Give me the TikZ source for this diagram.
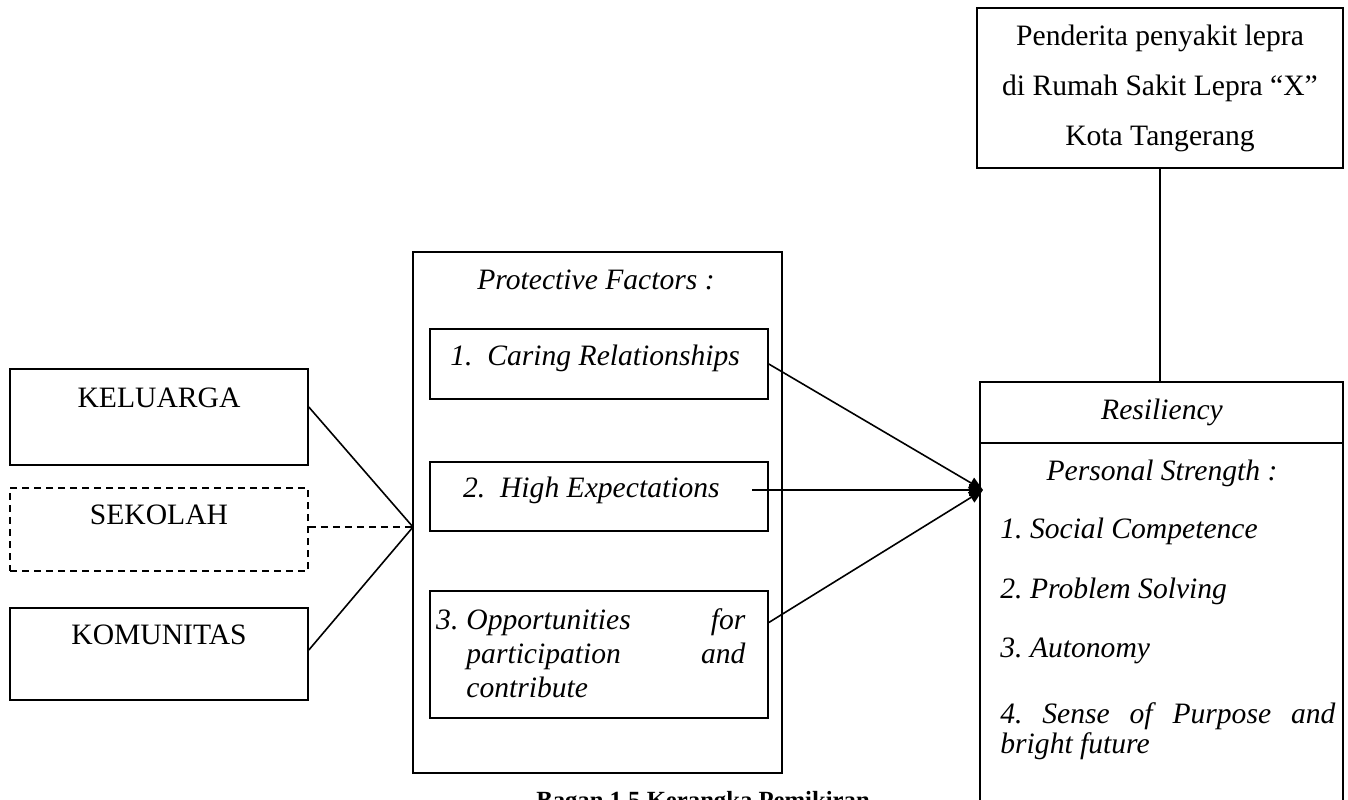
\documentclass[tikz,border=0pt]{standalone}
\usepackage{fontspec}
\setmainfont{Liberation Serif}
\usetikzlibrary{positioning,calc,arrows.meta}
\frenchspacing
\hyphenpenalty=10000
\exhyphenpenalty=10000

\begin{document}
\begin{tikzpicture}[x=0.5pt,y=-0.5pt,
	kotak/.style={draw,line width=0.8pt,inner sep=0pt},
	garis/.style={line width=0.8pt},
	putus/.style={dash pattern=on 3.5pt off 2.5pt},
	panah/.style={line width=0.8pt,-{Triangle[length=7pt,width=6pt]}},
	teks/.style={inner sep=0pt,font=\fontsize{14.8pt}{17pt}\selectfont},
	miring/.style={inner sep=0pt,font=\fontsize{14.8pt}{17pt}\selectfont\itshape}]
	\useasboundingbox (0,0) rectangle (1348,799);
	\clip (0,0) rectangle (1348,799);
		\node[kotak,minimum width=149pt,minimum height=48pt] (kel) at (159,417) {};
		\node[kotak,putus,minimum width=149pt,minimum height=41.5pt] (sek) at (159,529.5) {};
		\node[kotak,minimum width=149pt,minimum height=46pt] (kom) at (159,654) {};
		\node[teks] (tkel) at (159,398) {KELUARGA};
		\node[teks] (tsek) at (159,515) {SEKOLAH};
		\node[teks] (tkom) at (159,635) {KOMUNITAS};
	\node[kotak,minimum width=184.5pt,minimum height=260.5pt] (pf) at (597.5,512.5) {};
	\node[miring] (tpf) at (596,280) {Protective Factors :};
		\node[kotak,minimum width=169pt,minimum height=35pt] (pf1) at (599,364) {};
		\node[kotak,minimum width=169pt,minimum height=34.5pt] (pf2) at (599,496.5) {};
		\node[kotak,minimum width=169pt,minimum height=63.5pt] (pf3) at (599,654.5) {};
		\node[miring,anchor=base west] (care) at (450,365) {1.~~Caring Relationships};
		\node[miring,anchor=base east] (high) at (720,497) {2.~~High Expectations};
		\node[miring,anchor=north west,text width=139.5pt,align=justify] (opp) at (466,608) {\noindent\llap{3.\hspace{4pt}}Opportunities for participation and contribute};
	\node[kotak,minimum width=183pt,minimum height=80pt,align=center,font=\fontsize{14.8pt}{25pt}\selectfont] (pend) at (1160,88) {Penderita penyakit lepra\\di Rumah Sakit Lepra ``X''\\Kota Tangerang};
	\node[kotak,minimum width=181.5pt,minimum height=30.5pt] (reskep) at (1161.5,412.5) {};
	\node[kotak,minimum width=181.5pt,minimum height=208.5pt] (resisi) at (1161.5,651.5) {};
		\node[miring,anchor=base] (tres) at (1162,419) {Resiliency};
		\node[miring,anchor=base] (tps) at (1162,480) {Personal Strength :};
		\node[miring,anchor=base west] (r1) at (1000,538) {1. Social Competence};
		\node[miring,anchor=base west] (r2) at (1000,598) {2. Problem Solving};
		\node[miring,anchor=base west] (r3) at (1000,657) {3. Autonomy};
		\node[miring,anchor=north west,text width=167.5pt,align=justify,font=\fontsize{14.8pt}{15pt}\selectfont\itshape] (r4) at (1000,702) {4. Sense of Purpose and bright future};
	\node[inner sep=0pt,anchor=base,font=\fontsize{12.35pt}{14pt}\selectfont\bfseries] (judul) at (703,808) {Bagan 1.5 Kerangka Pemikiran};
	\coordinate (temu) at (413,527);
	\coordinate (ujung) at (983,490);
		\draw[garis] ([yshift=5pt]kel.east) -- (temu);
		\draw[garis,putus] (sek.east |- temu) -- (temu);
		\draw[garis] ([yshift=2pt]kom.east) -- (temu);
		\draw[panah] (pf1.east) -- (ujung);
		\draw[panah] ([xshift=16pt]high.east |- ujung) -- (ujung);
		\draw[panah] ([yshift=16pt]pf3.east) -- (ujung);
		\draw[garis] (pend.south) -- (pend.south |- reskep.north);
\end{tikzpicture}
\end{document}
